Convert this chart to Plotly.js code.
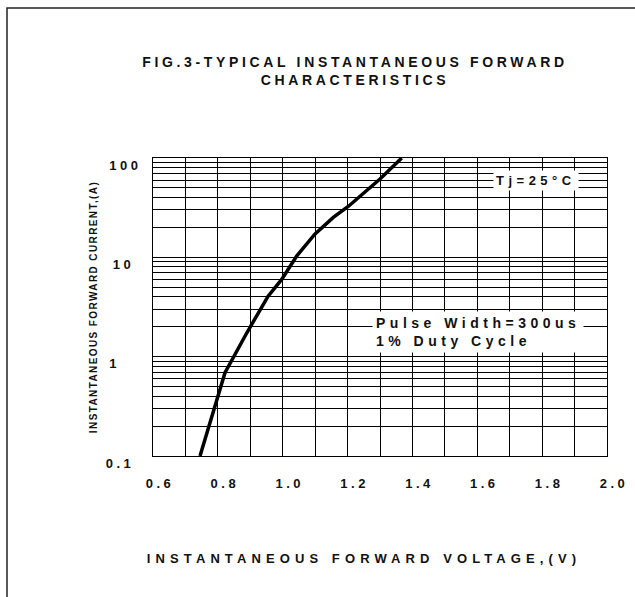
<!DOCTYPE html>
<html>
<head>
<meta charset="utf-8">
<script src="https://cdn.plot.ly/plotly-3.0.1.min.js"></script>
<style>
  html, body { margin: 0; padding: 0; background: #fff; }
  #chart { width: 635px; height: 597px; }
  .gtitle { letter-spacing: 3.65px; }
  .xtitle { letter-spacing: 5.1px; transform: translate(-16px, 0px); }
  .ytitle { letter-spacing: 1.4px; }
  .xtick text, .ytick text { letter-spacing: 3.5px; }
  .annotation-text { letter-spacing: 4.5px; }
</style>
</head>
<body>
<div id="chart"></div>
<script>
// Forward voltage (V) and forward current (A)
const forwardVoltage = [0.745, 0.822, 0.889, 0.955, 0.997, 1.043, 1.099, 1.156, 1.202, 1.300, 1.367];
const forwardCurrent = [0.1, 0.69, 1.73, 4.06, 6.0, 10.3, 17.1, 25.2, 32.5, 61.4, 100];

// x-axis ticks
const xTickVals = [0.6, 0.8, 1.0, 1.2, 1.4, 1.6, 1.8, 2.0];
const xTickText = ['0.6', '0.8', '1.0', '1.2', '1.4', '1.6', '1.8', '2.0'];

// y-axis (log) grid values and labels
const yTickVals = [0.1,0.2,0.3,0.4,0.5,0.6,0.7,0.8,0.9,
                   1,2,3,4,5,6,7,8,9,
                   10,20,30,40,50,60,70,80,90,100];
const yTickText = ['0.1\u00A0','','','','','','','','',
                   '1\u00A0\u00A0\u00A0','','','','','','','','',
                   '10\u00A0','','','','','','','','',
                   '100'];

const titleText = 'FIG.3-TYPICAL INSTANTANEOUS FORWARD<br>CHARACTERISTICS';
const xTitleText = 'INSTANTANEOUS FORWARD VOLTAGE,(V)';
const yTitleText = 'INSTANTANEOUS FORWARD CURRENT,(A)';
const noteTemp = 'Tj=25\u00B0C';
const notePulse = 'Pulse Width=300us<br>1% Duty Cycle';

const FONT = 'Liberation Sans, Arial, sans-serif';

const trace = {
  x: forwardVoltage,
  y: forwardCurrent,
  type: 'scatter',
  mode: 'lines',
  line: { color: '#000', width: 3.5 },
  hoverinfo: 'skip',
  showlegend: false
};

const L = 153, R = 28, T = 158, B = 141;
const W = 635 - L - R, H = 597 - T - B;
const px = v => (v - L) / W;          // pixel -> paper x
const py = v => (597 - B - v) / H;    // pixel -> paper y

const layout = {
  width: 635,
  height: 597,
  margin: { l: L, r: R, t: T, b: B, pad: 0 },
  paper_bgcolor: '#fff',
  plot_bgcolor: '#fff',
  font: { family: FONT, color: '#000', weight: 'bold', size: 13 },
  title: {
    text: titleText,
    font: { family: FONT, size: 14, weight: 'bold', color: '#111' },
    xref: 'container', yref: 'container',
    x: 355 / 635, xanchor: 'center',
    y: 1 - 67 / 597, yanchor: 'top'
  },
  xaxis: {
    type: 'linear',
    range: [0.6, 2.0],
    tickmode: 'array',
    tickvals: xTickVals,
    ticktext: xTickText,
    ticks: '',
    ticklabelshift: 7,
    ticklabelstandoff: 15,
    tickfont: { family: FONT, size: 13, weight: 'bold', color: '#111' },
    showgrid: true,
    gridcolor: '#000',
    gridwidth: 1,
    minor: { dtick: 0.1, showgrid: true, gridcolor: '#000', gridwidth: 1, ticks: '' },
    showline: true, linecolor: '#000', linewidth: 1, mirror: true,
    zeroline: false,
    fixedrange: true,
    title: {
      text: xTitleText,
      font: { family: FONT, size: 13, weight: 'bold', color: '#111' },
      standoff: 64
    }
  },
  yaxis: {
    type: 'log',
    range: [-1, 2],
    tickmode: 'array',
    tickvals: yTickVals,
    ticktext: yTickText,
    ticks: '',
    ticklabelshift: 7,
    ticklabelstandoff: 8,
    tickfont: { family: FONT, size: 13, weight: 'bold', color: '#111' },
    showgrid: true,
    gridcolor: '#000',
    gridwidth: 1,
    showline: true, linecolor: '#000', linewidth: 1, mirror: true,
    zeroline: false,
    fixedrange: true,
    title: {
      text: yTitleText,
      font: { family: FONT, size: 10, weight: 'bold', color: '#111' },
      standoff: 6
    }
  },
  annotations: [
    {
      xref: 'paper', yref: 'paper',
      x: px(536), y: py(180),
      xanchor: 'center', yanchor: 'middle',
      text: noteTemp,
      showarrow: false,
      bgcolor: '#fff',
      borderpad: 2,
      font: { family: FONT, size: 13, weight: 'bold', color: '#111' }
    },
    {
      xref: 'paper', yref: 'paper',
      x: px(372), y: py(332),
      xanchor: 'left', yanchor: 'middle',
      align: 'left',
      text: notePulse,
      showarrow: false,
      bgcolor: '#fff',
      borderpad: 3,
      font: { family: FONT, size: 14, weight: 'bold', color: '#111' }
    }
  ],
  shapes: [
    {
      type: 'path', xref: 'paper', yref: 'paper',
      path: 'M ' + px(7) + ',' + py(597) + ' L ' + px(7) + ',' + py(8) + ' L ' + px(635) + ',' + py(8),
      line: { color: '#222', width: 1.5 },
      layer: 'above'
    }
  ]
};

Plotly.newPlot('chart', [trace], layout, { staticPlot: true, displayModeBar: false });
</script>
</body>
</html>
